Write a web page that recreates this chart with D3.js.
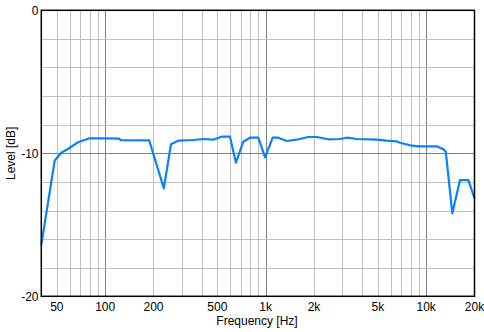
<!DOCTYPE html>
<html>
<head>
<meta charset="utf-8">
<script src="https://cdn.jsdelivr.net/npm/d3@7"></script>
<style>
body { margin: 0; background: #fff; }
svg text { font-family: "Liberation Sans", Arial, sans-serif; font-size: 12px; fill: #000; }
</style>
</head>
<body>
<svg id="chart" width="484" height="332"></svg>
<script>
// response curve
var freqs = [40, 48.5, 53.3, 58.6, 67.7, 80, 100, 122, 125, 188, 232, 257, 285, 354, 408, 470, 532, 599, 653, 725, 798, 900, 990, 1106, 1199, 1352, 1560, 1843, 2080, 2456, 2906, 3200, 3690, 4917, 5675, 6550, 6869, 7930, 8935, 11630, 12800, 13250, 14550, 16250, 18320, 20000];
var levels = [-16.4, -10.5, -9.96, -9.7, -9.23, -8.95, -8.95, -8.97, -9.08, -9.1, -12.45, -9.37, -9.12, -9.07, -9.0, -9.05, -8.84, -8.84, -10.66, -9.19, -8.91, -8.91, -10.28, -8.91, -8.91, -9.14, -9.05, -8.86, -8.86, -9.02, -9.0, -8.91, -9.0, -9.05, -9.12, -9.16, -9.26, -9.44, -9.51, -9.51, -9.72, -9.9, -14.2, -11.87, -11.87, -13.15];
var xTicks = [50, 100, 200, 500, 1000, 2000, 5000, 10000, 20000];
var xTickLabels = ["50", "100", "200", "500", "1k", "2k", "5k", "10k", "20k"];
var yTicks = [0, -10, -20];

var svg = d3.select("#chart");
var pLeft = 41.3, pRight = 474.5, pTop = 10.3, pBottom = 296.3;

var x = d3.scaleLog().domain([40, 20000]).range([pLeft, pRight]);
var y = d3.scaleLinear().domain([-20, 0]).range([pBottom, pTop]);

// vertical grid: 1..9 per decade
var minor = [];
[10, 100, 1000, 10000].forEach(function(dec){
    for (var k = 1; k < 10; k++) {
        var f = dec * k;
        if (f > 40 && f < 20000) minor.push(f);
    }
});
svg.append("g").selectAll("line").data(minor).enter().append("line")
    .attr("x1", function(d){ return Math.round(x(d)) + 0.5; })
    .attr("x2", function(d){ return Math.round(x(d)) + 0.5; })
    .attr("y1", pTop).attr("y2", pBottom)
    .attr("stroke", function(d){ return [100, 1000, 10000].indexOf(d) >= 0 ? "#808080" : "#c0c0c0"; })
    .attr("stroke-width", 1);

// horizontal grid every 2 dB
var hgrid = d3.range(-18, 0, 2);
svg.append("g").selectAll("line").data(hgrid).enter().append("line")
    .attr("x1", pLeft).attr("x2", pRight)
    .attr("y1", function(d){ return Math.round(y(d)) + 0.5; })
    .attr("y2", function(d){ return Math.round(y(d)) + 0.5; })
    .attr("stroke", function(d){ return d == -10 ? "#808080" : "#c0c0c0"; })
    .attr("stroke-width", 1);

// curve
var line = d3.line()
    .x(function(d){ return x(d[0]); })
    .y(function(d){ return y(d[1]); });
svg.append("path")
    .datum(d3.zip(freqs, levels))
    .attr("d", line)
    .attr("fill", "none")
    .attr("stroke", "#0882f8")
    .attr("stroke-width", 2.2)
    .attr("stroke-linejoin", "round");

// frame
svg.append("rect")
    .attr("x", pLeft).attr("y", pTop)
    .attr("width", pRight - pLeft).attr("height", pBottom - pTop)
    .attr("fill", "none").attr("stroke", "#000").attr("stroke-width", 1.5);

// tick labels
svg.append("g").selectAll("text").data(xTicks).enter().append("text")
    .attr("x", function(d){ return x(d); })
    .attr("y", 311)
    .attr("text-anchor", "middle")
    .text(function(d, i){ return xTickLabels[i]; });

svg.append("g").selectAll("text").data(yTicks).enter().append("text")
    .attr("x", 38.5)
    .attr("y", function(d){ return y(d) + 4.3; })
    .attr("text-anchor", "end")
    .text(function(d){ return d; });

// axis titles
svg.append("text")
    .attr("x", 257).attr("y", 325)
    .attr("text-anchor", "middle")
    .text("Frequency [Hz]");
svg.append("text")
    .attr("transform", "translate(15," + (pTop + pBottom) / 2 + ") rotate(-90)")
    .attr("text-anchor", "middle")
    .text("Level [dB]");
</script>
</body>
</html>
